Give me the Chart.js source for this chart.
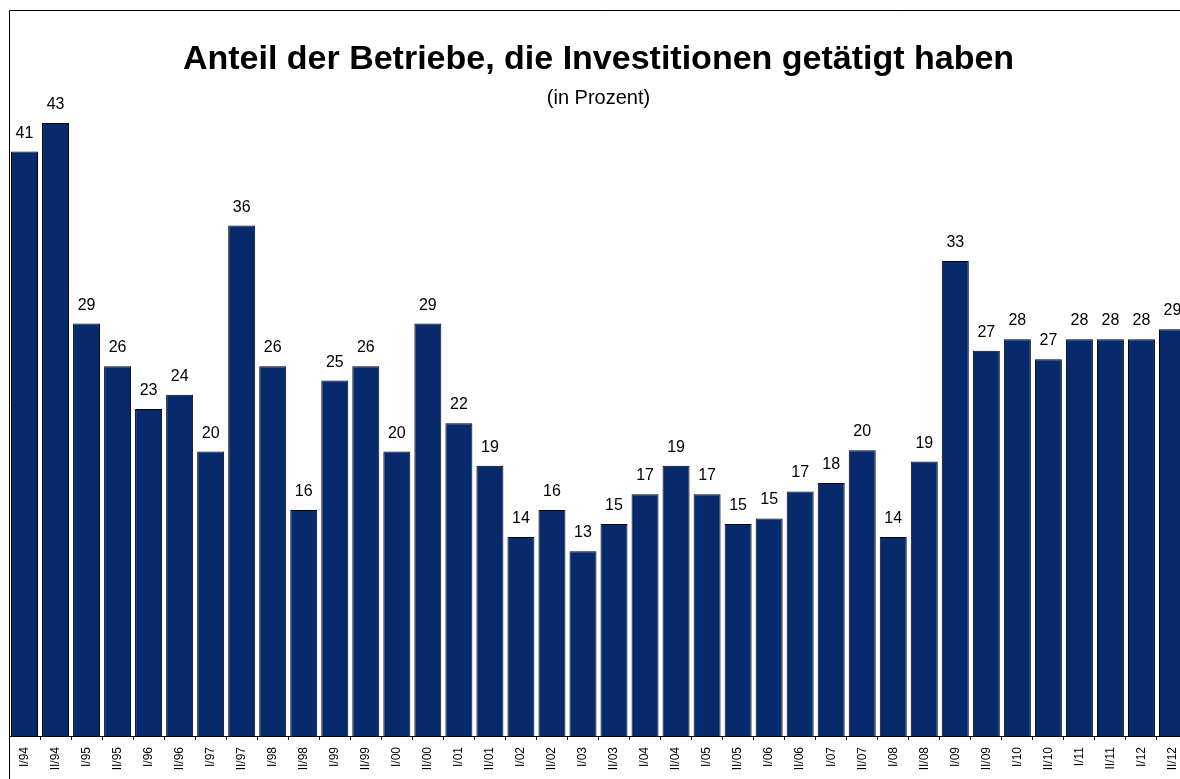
<!DOCTYPE html>
<html>
<head>
<meta charset="utf-8">
<script src="https://cdn.jsdelivr.net/npm/chart.js@4/dist/chart.umd.min.js"></script>
<style>
html,body{margin:0;padding:0;background:#fff;overflow:hidden;width:1180px;height:779px;}
#wrap{position:absolute;left:0;top:0;width:1200px;height:800px;}
</style>
</head>
<body>
<div id="wrap"><canvas id="c" width="1200" height="800"></canvas></div>
<script>
const categories = ["I/94","II/94","I/95","II/95","I/96","II/96","I/97","II/97","I/98","II/98",
  "I/99","II/99","I/00","II/00","I/01","II/01","I/02","II/02","I/03","II/03",
  "I/04","II/04","I/05","II/05","I/06","II/06","I/07","II/07","I/08","II/08",
  "I/09","II/09","I/10","II/10","I/11","II/11","I/12","II/12"];
const shareValues = [41.1,43.1,29.0,26.0,23.0,24.0,20.0,35.9,26.0,15.9,
  25.0,26.0,20.0,29.0,22.0,19.0,14.0,15.9,13.0,14.9,
  17.0,19.0,17.0,14.9,15.3,17.2,17.8,20.1,14.0,19.3,
  33.4,27.1,27.9,26.5,27.9,27.9,27.9,28.6];
const titleText = "Anteil der Betriebe, die Investitionen getätigt haben";
const subtitleText = "(in Prozent)";
const FONT = "'Liberation Sans', Arial, Helvetica, sans-serif";

const overlay = {
  id: 'overlay',
  afterDraw(chart) {
    const ctx = chart.ctx;
    ctx.save();
    // frame
    ctx.strokeStyle = '#000';
    ctx.lineWidth = 1;
    ctx.beginPath();
    ctx.moveTo(9.5, 800); ctx.lineTo(9.5, 10.5); ctx.lineTo(1200, 10.5);
    ctx.stroke();
    // title
    const cx = (chart.chartArea.left + chart.chartArea.right) / 2;
    ctx.fillStyle = '#000';
    ctx.textAlign = 'center';
    ctx.textBaseline = 'alphabetic';
    ctx.font = 'bold 34px ' + FONT;
    ctx.fillText(titleText, cx, 69);
    ctx.font = '20px ' + FONT;
    ctx.fillText(subtitleText, cx, 104);
    // value labels
    ctx.font = '16px ' + FONT;
    const meta = chart.getDatasetMeta(0);
    meta.data.forEach((bar, i) => {
      ctx.fillText(String(Math.round(shareValues[i])), bar.x, bar.y - 14);
    });
    ctx.restore();
  }
};

new Chart(document.getElementById('c'), {
  type: 'bar',
  data: {
    labels: categories,
    datasets: [{
      data: shareValues,
      backgroundColor: '#062a6b',
      borderColor: '#000',
      borderWidth: 1,
      borderSkipped: 'bottom',
      categoryPercentage: 1.0,
      barPercentage: 0.87
    }]
  },
  options: {
    responsive: false,
    devicePixelRatio: 1,
    animation: false,
    layout: { padding: { left: 9, right: 12, top: 25, bottom: 20 } },
    plugins: { legend: { display: false }, title: { display: false }, tooltip: { enabled: false } },
    scales: {
      x: {
        offset: true,
        grid: { offset: true, drawOnChartArea: false, drawTicks: true, tickLength: 4, color: '#000' },
        border: { display: true, color: '#000', width: 1 },
        ticks: {
          autoSkip: false, minRotation: 90, maxRotation: 90,
          color: '#000', padding: 7,
          font: { family: FONT, size: 12 }
        },
        afterFit(scale) { scale.height = 44; }
      },
      y: {
        display: false,
        min: 0, max: 50
      }
    }
  },
  plugins: [overlay]
});
</script>
</body>
</html>
